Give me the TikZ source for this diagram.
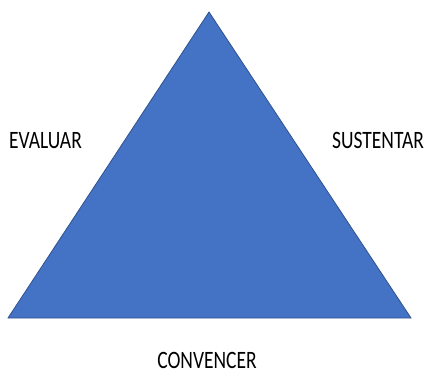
\documentclass[tikz,border=0pt]{standalone}
\usepackage{fontspec}
\setmainfont{Carlito}
\definecolor{triFill}{HTML}{4472C4}
\definecolor{triLine}{HTML}{2F528F}
\tikzset{
  lbl/.style={font=\fontsize{25}{28}\selectfont, inner sep=0pt, anchor=base, text=black},
}
\newcommand{\cond}[1]{\scalebox{0.78}[1]{#1}}
\begin{document}
\begin{tikzpicture}[x=1pt,y=-1pt]
\useasboundingbox (0,0) rectangle (430,375);
\coordinate (top) at (209,12);
\coordinate (bl) at (8,318);
\coordinate (br) at (411,318);
\draw[fill=triFill, draw=triLine, line width=0.8pt, line join=miter] (top) -- (br) -- (bl) -- cycle;
\node[lbl] (evaluar) at (45.5,148) {\cond{EVALUAR}};
\node[lbl] (sustentar) at (378,148) {\cond{SUSTENTAR}};
\node[lbl] (convencer) at (207,368) {\cond{CONVENCER}};
\end{tikzpicture}
\end{document}
